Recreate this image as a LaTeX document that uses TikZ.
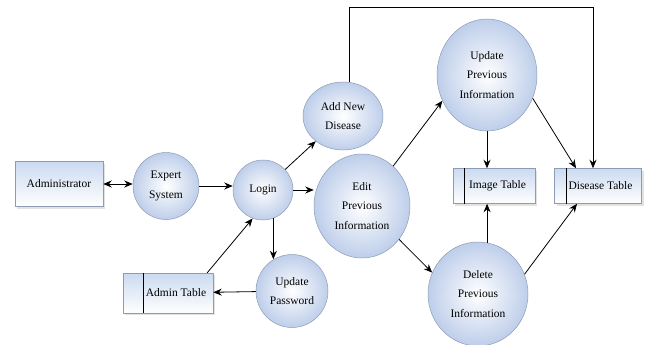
\documentclass[tikz,border=0pt]{standalone}
\usepackage{fontspec}
\setmainfont{Liberation Serif}
\usetikzlibrary{arrows.meta,shapes.geometric,shadows}

\definecolor{procblue}{RGB}{190,206,234}
\definecolor{procedge}{RGB}{140,155,182}
\definecolor{storeblue}{RGB}{203,218,240}

\begin{document}
\begin{tikzpicture}[x=1pt,y=-1pt,>={Stealth[length=8.5pt,width=7pt]},line width=0.8pt,
    font=\fontsize{11.5}{19.5}\selectfont,
    process/.style={ellipse,draw=procedge,line width=0.5pt,inner color=white,
                    outer color=procblue,inner sep=0pt,align=center},
    entity/.style={rectangle,draw=procedge,line width=0.5pt,top color=storeblue,
                   bottom color=white,inner sep=0pt,
                   drop shadow={shadow xshift=2pt,shadow yshift=-2pt,fill=gray!45}},
    store/.style={entity,minimum height=35pt}]

    \useasboundingbox (0,0) rectangle (645,345);

    \node[entity,minimum width=88pt,minimum height=45pt] (admin) at (59,184) {Administrator};
    \node[process,minimum width=66pt,minimum height=67pt] (expert) at (166,186) {Expert\\System};
    \node[process,minimum width=60pt,minimum height=60pt] (login) at (263,190) {Login};
    \node[process,minimum width=72pt,minimum height=73pt] (pwd) at (292,291) {Update\\Password};
    \node[store,minimum width=90pt,minimum height=40pt] (admtab) at (168,293) {\hspace*{16pt}Admin Table};

    \node[process,minimum width=80pt,minimum height=68pt] (addnew) at (343,116) {Add New\\Disease};
    \node[process,minimum width=96pt,minimum height=104pt] (edit) at (362,206) {Edit\\Previous\\Information};
    \node[process,minimum width=100pt,minimum height=112pt] (updprev) at (487,75) {Update\\Previous\\Information};
    \node[process,minimum width=100pt,minimum height=104pt] (delprev) at (478,294) {Delete\\Previous\\Information};
    \node[store,minimum width=82pt] (imgtab) at (494,186) {\hspace*{7pt}Image Table};
    \node[store,minimum width=87pt] (distab) at (598,186) {\hspace*{5pt}Disease Table};

    % data store dividers
    \draw[line width=0.6pt] ([xshift=21pt]admtab.north west) -- ([xshift=21pt]admtab.south west);
    \draw[line width=0.6pt] ([xshift=12pt]imgtab.north west) -- ([xshift=12pt]imgtab.south west);
    \draw[line width=0.6pt] ([xshift=12pt]distab.north west) -- ([xshift=12pt]distab.south west);

    \coordinate (roof) at (0,7);

    \draw[<->] (admin) -- (admin -| expert.west);
    \draw[->] (expert) -- (expert -| login.west);
    \draw[->] (login) -- (login -| edit.west);
    \draw[->] (login) -- (addnew);
    \draw[->] (login.-70) -- (login.-70 |- pwd.120);
    \draw[->] (pwd) -- (admtab);
    \draw[->] ([xshift=-6pt]admtab.north east) -- (login.-110);

    \draw[->] (edit.52) -- (updprev.210);
    \draw[->] (edit.-42) -- (delprev.155);
    \draw[->] (updprev.south) -- (updprev.south |- imgtab.north);
    \draw[->] (delprev.80) -- (delprev.80 |- imgtab.south);
    \draw[->] (updprev.-27) -- ([xshift=-22pt]distab.north);
    \draw[->] (delprev.23) -- ([xshift=-21pt]distab.south);
    \draw[->] (addnew.80) -- (addnew.80 |- roof) -| ([xshift=-5pt]distab.north);

\end{tikzpicture}
\end{document}
